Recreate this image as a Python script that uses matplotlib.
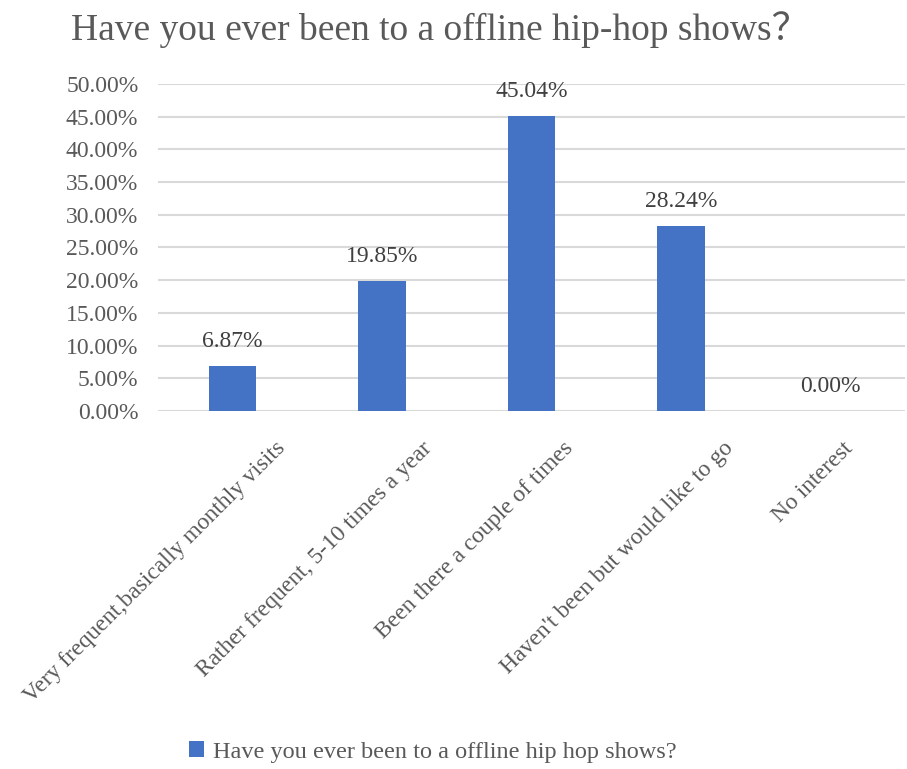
import matplotlib.pyplot as plt
import matplotlib.transforms as mtransforms
import numpy as np

## Survey data
categories = ['Very frequent,basically monthly visits',
              'Rather frequent, 5-10 times a year',
              'Been there a couple of times',
              "Haven't been but would like to go",
              'No interest']
values = [6.87, 19.85, 45.04, 28.24, 0.00]
yticks = [0, 5, 10, 15, 20, 25, 30, 35, 40, 45, 50]

serif = ['Liberation Serif', 'Noto Sans CJK SC']
grey = '#595959'
blue = '#4472C4'

fig = plt.figure(figsize=(9.07, 7.69), dpi=100)
ax = fig.add_axes([0.174, 0.4655, 0.824, 0.4255])

x = np.arange(len(categories))
bars = ax.bar(x, values, width=0.32, color=blue, zorder=3,
              label='Have you ever been to a offline hip hop shows?')

## data labels
for xi, v in zip(x, values):
    ax.annotate('%.2f%%' % v, (xi, v), xytext=(0, 10), textcoords='offset points',
                ha='center', va='bottom', fontsize=17, color='#404040', family=serif)

ax.set_ylim(0, 50)
ax.set_xlim(-0.5, 4.5)
ax.set_yticks(yticks)
ax.set_yticklabels(['%.2f%%' % t for t in yticks], fontsize=17, color=grey, family=serif)
ax.yaxis.grid(True, color='#d9d9d9', linewidth=1.5, zorder=0)
ax.tick_params(length=0)
ax.tick_params(axis='y', pad=14)
for s in ax.spines.values():
    s.set_visible(False)

## rotated category labels, nudged like excel does
ax.set_xticks(x)
ax.set_xticklabels(categories, rotation=45, ha='right', rotation_mode='anchor',
                   fontsize=17, color=grey, family=serif)
nudge = [0.0, -0.03, -0.11, 0.0, -0.30]
for lbl, dx in zip(ax.get_xticklabels(), nudge):
    offset = mtransforms.ScaledTranslation(0.42 + dx, -0.22, fig.dpi_scale_trans)
    lbl.set_transform(lbl.get_transform() + offset)

fig.text(0.485, 0.962, 'Have you ever been to a offline hip-hop shows？', ha='center', va='center',
         fontsize=27, color=grey, family=serif)

leg = fig.legend(handles=[bars], loc='center', bbox_to_anchor=(0.477, 0.022), frameon=False,
                 handlelength=0.65, handleheight=0.65, handletextpad=0.35,
                 prop={'family': serif, 'size': 17.5})
for t in leg.get_texts():
    t.set_color(grey)

plt.savefig('out.png', dpi=100)
